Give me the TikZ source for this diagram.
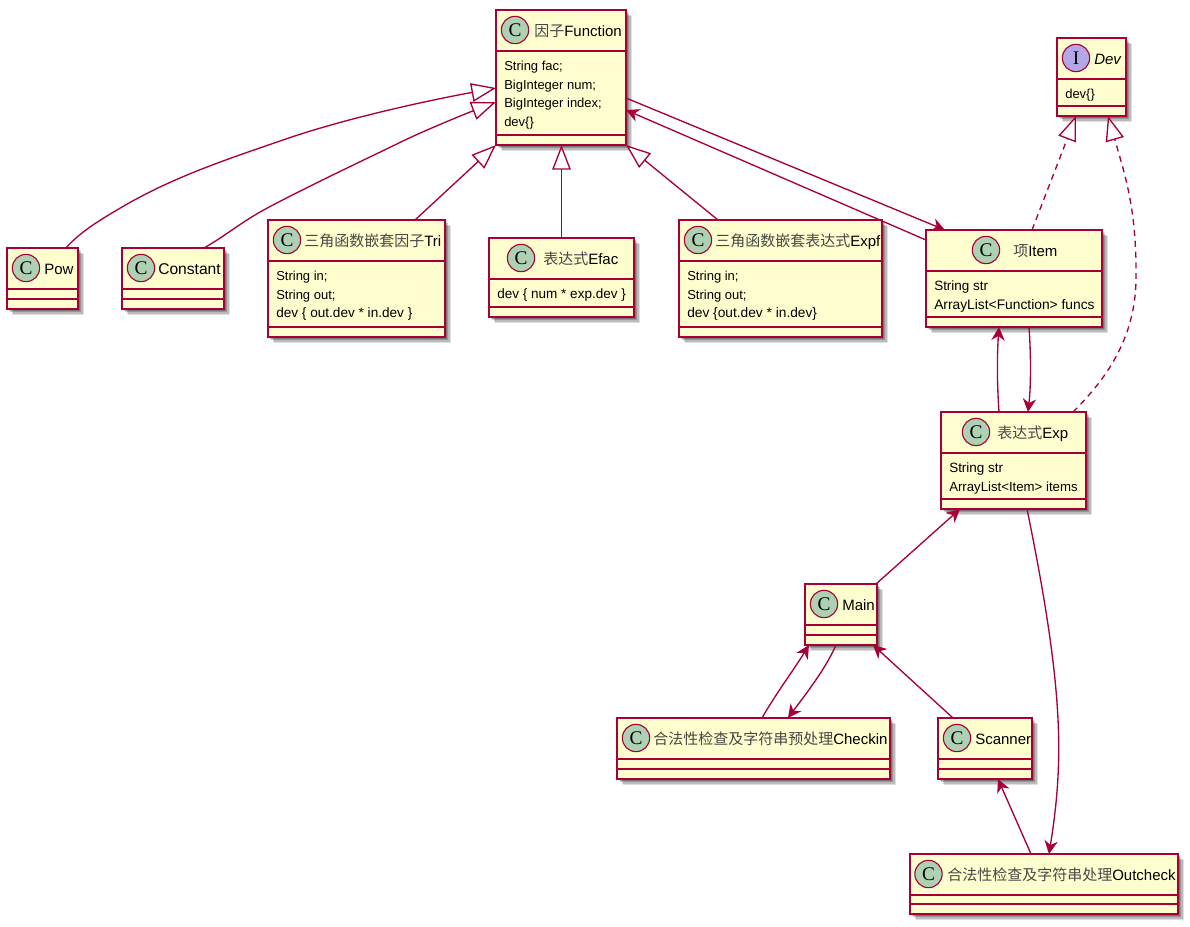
\documentclass[tikz,border=0pt]{standalone}
\usepackage{fontspec}
\setmainfont{Liberation Sans}
\newfontfamily\cjk{Noto Sans CJK SC}
\newfontfamily\glyphfont{Liberation Serif}
\usetikzlibrary{arrows.meta,calc,shadows}
\definecolor{umlline}{HTML}{A80036}
\definecolor{umlfill}{HTML}{FEFECE}
\definecolor{umlC}{HTML}{ADD1B2}
\definecolor{umlI}{HTML}{B4A7E5}
\newcommand{\cj}[1]{{\cjk\color{black!72}#1}}
\newcommand{\sz}[2]{{\fontsize{#1}{12}\selectfont #2}}
\tikzset{
  classbox/.style={draw=umlline,fill=umlfill,line width=1.3pt,inner sep=0pt,outer sep=0pt,anchor=north west,
    general shadow={shadow xshift=1.5pt,shadow yshift=-1.5pt,fill=black,opacity=.2},
    general shadow={shadow xshift=2.6pt,shadow yshift=-2.6pt,fill=black,opacity=.2},
    general shadow={shadow xshift=3.6pt,shadow yshift=-3.6pt,fill=black,opacity=.17},
    general shadow={shadow xshift=4.6pt,shadow yshift=-4.6pt,fill=black,opacity=.12}},
  sepline/.style={draw=umlline,line width=1.2pt},
  badge/.style={circle,draw=umlline,line width=.85pt,minimum size=20.5pt,inner sep=0pt,outer sep=0pt,
    font=\glyphfont\fontsize{14.5}{15}\selectfont,text=black},
  titletext/.style={anchor=base west,inner sep=0pt,font=\fontsize{11.25}{13}\selectfont},
  membertext/.style={anchor=base west,inner sep=0pt,font=\fontsize{9.75}{12}\selectfont},
  link/.style={draw=umlline,line width=1pt},
  assoc/.style={link,-{Stealth[length=10pt,width=10pt,inset=3.2pt]}},
  gener/.style={link,-{Triangle[fill=white,length=18.5pt,width=14pt,line width=1pt]}},
  realize/.style={gener,dash pattern=on 4.5pt off 3.6pt},
}
% [badge letter/colour/x offset] name, x1, x2, y1, y2
\newcommand{\umlclass}[6][C/umlC/19]{%
  \node[classbox,minimum width={(#4-#3)*0.75pt},minimum height={(#6-#5)*0.75pt}] (#2) at (#3,#5) {};
  \draw[sepline] ($(#2.north west)+(0,41)$) -- ($(#2.north east)+(0,41)$);
  \draw[sepline] ($(#2.south west)+(0,-10)$) -- ($(#2.south east)+(0,-10)$);
  \foreach \gl/\gc/\gx in {#1} {\node[badge,fill=\gc] (#2-badge) at ($(#2.north west)+(\gx,20)$) {\gl};}
}
\newcommand{\umltitle}[3]{\node[titletext] (#1-title) at ($(#1.north west)+(#2,26)$) {#3};}
\newcommand{\umlmembers}[2]{%
  \foreach \mt [count=\mi] in {#2} {
    \node[membertext] (#1-m\mi) at ($(#1.north west)+(8,41+19.6+18.6*\mi-18.6)$) {\mt};
  }
}
\begin{document}
\begin{tikzpicture}[x=0.75pt,y=-0.75pt]
\useasboundingbox (0,0) rectangle (1190,926);
\umlclass{fn}{496}{626}{10}{145}\umltitle{fn}{38}{\cj{因子}Function}
\umlmembers{fn}{String fac;,BigInteger num;,BigInteger index;,dev\{\}}
\umlclass[I/umlI/19]{dev}{1057}{1126}{38}{116}\umltitle{dev}{37}{\textit{Dev}}
\umlmembers{dev}{dev\{\}}
\umlclass{pow}{7}{78}{248}{309}\umltitle{pow}{37}{Pow}
\umlclass{const}{122}{224}{248}{309}\umltitle{const}{36}{\sz{11.7}{Constant}}
\umlclass{tri}{268}{445}{220}{337}\umltitle{tri}{36}{\cj{三角函数嵌套因子}Tri}
\umlmembers{tri}{String in;,String out;,\sz{10.2}{dev \{ out.dev * in.dev \}}}
\umlclass[C/umlC/32]{efac}{489}{634}{238}{317}\umltitle{efac}{54}{\cj{表达式}Efac}
\umlmembers{efac}{\sz{10.15}{dev \{ num * exp.dev \}}}
\umlclass{expf}{679}{882}{220}{337}\umltitle{expf}{36}{\cj{三角函数嵌套表达式}Expf}
\umlmembers{expf}{String in;,String out;,\sz{10.3}{dev \{out.dev * in.dev\}}}
\umlclass[C/umlC/60]{item}{926}{1102}{230}{327}\umltitle{item}{87}{\cj{项}Item}
\umlmembers{item}{\sz{10.1}{String str},\sz{10.35}{ArrayList<Function> funcs}}
\umlclass[C/umlC/35]{exp}{941}{1086}{412}{509}\umltitle{exp}{56}{\cj{表达式}Exp}
\umlmembers{exp}{\sz{10.1}{String str},\sz{9.9}{ArrayList<Item> items}}
\umlclass{main}{805}{877}{584}{645}\umltitle{main}{37}{Main}
\umlclass{checkin}{617}{890}{718}{779}\umltitle{checkin}{36}{\cj{合法性检查及字符串预处理}Checkin}
\umlclass{scanner}{938}{1032}{718}{779}\umltitle{scanner}{37}{Scanner}
\umlclass[C/umlC/18.5]{outcheck}{910}{1178}{854}{914}\umltitle{outcheck}{37}{\cj{合法性检查及字符串处理}Outcheck}
% generalisations
\draw[gener] ($(pow.north west)+(59,0)$) .. controls (80,232) and (100,220) .. (117,210)
  .. controls (170,178) and (225,160) .. (283,140)
  .. controls (340,120) and (420,102) .. ($(fn.north west)+(0,78)$);
\draw[gener] ($(const.north west)+(82,0)$) .. controls (225,236) and (236,226) .. (260,212)
  .. controls (300,190) and (360,162) .. (405,140)
  .. controls (435,126) and (470,112) .. ($(fn.north west)+(0,92)$);
\draw[gener] ($(tri.north west)+(147,0)$) -- (fn.south west);
\draw[gener] (efac.north) -- (efac.north |- fn.south);
\draw[gener] ($(expf.north west)+(39,0)$) -- (fn.south east);
% realisations
\draw[realize] ($(item.north west)+(106,0)$) -- ($(dev.south west)+(19,0)$);
\draw[realize] ($(exp.north west)+(132,0)$) .. controls (1105,380) and (1135,340) .. (1136,280)
  .. controls (1137,210) and (1125,175) .. ($(dev.south west)+(51,0)$);
% associations
\draw[assoc] ($(fn.north east)+(0,88)$) -- ($(item.north west)+(19,0)$);
\draw[assoc] ($(item.north west)+(0,10)$) -- ($(fn.north east)+(0,100)$);
\draw[assoc] ($(exp.north west)+(58,0)$) .. controls (997,385) and (997,355) .. ($(item.south west)+(73,0)$);
\draw[assoc] ($(item.south west)+(103,0)$) .. controls (1031,355) and (1031,385) .. ($(exp.north west)+(87,0)$);
\draw[assoc] ($(main.north east)+(-1,0)$) -- ($(exp.south west)+(19,0)$);
\draw[assoc] ($(exp.south west)+(86,0)$) .. controls (1064,690) and (1064,760) .. ($(outcheck.north west)+(139,0)$);
\draw[assoc] ($(checkin.north west)+(145,0)$) .. controls (775,695) and (795,668) .. ($(main.south west)+(4,0)$);
\draw[assoc] ($(main.south west)+(31,0)$) .. controls (825,670) and (805,695) .. ($(checkin.north west)+(171,0)$);
\draw[assoc] ($(scanner.north west)+(15,0)$) -- ($(main.south west)+(68,0)$);
\draw[assoc] ($(outcheck.north west)+(121,0)$) -- ($(scanner.south west)+(60,0)$);
\end{tikzpicture}
\end{document}
